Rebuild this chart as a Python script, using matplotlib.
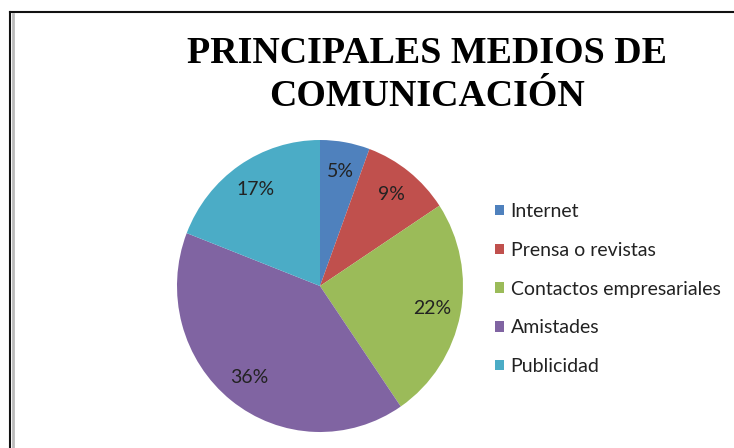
import matplotlib
matplotlib.use("Agg")
import matplotlib.pyplot as plt
from matplotlib.lines import Line2D

categories = ["Internet", "Prensa o revistas", "Contactos empresariales", "Amistades", "Publicidad"]
values = [5, 9, 22, 36, 17]
colors = ["#4F81BD", "#C0504D", "#9BBB59", "#8064A2", "#4BACC6"]
title_lines = ["PRINCIPALES MEDIOS DE", "COMUNICACIÓN"]

W, H = 734, 448
fig = plt.figure(figsize=(W / 100, H / 100), dpi=100)
fig.patch.set_facecolor("white")

# pie axes: center (320, 286) px, radii 143 x 146 px
cx, cy, rx, ry = 320, 286, 143, 146
ax = fig.add_axes([(cx - rx) / W, (H - cy - ry) / H, 2 * rx / W, 2 * ry / H])
total = sum(values)


def fmt(pct):
    return "{:d}%".format(int(round(pct * total / 100.0)))


wedges, texts, autotexts = ax.pie(
    values, colors=colors, startangle=90, counterclock=False,
    autopct=fmt, pctdistance=0.8, radius=1,
    wedgeprops=dict(linewidth=0),
    textprops=dict(fontsize=14, color="#222222", family="Lato"),
)
ax.set_xlim(-1, 1)
ax.set_ylim(-1, 1)
ax.set_aspect("auto")
ax.axis("off")

# title
fig.text(427 / W, 1 - 63 / H, title_lines[0], ha="center", va="baseline",
         fontsize=27.3, fontweight="bold", family="Liberation Serif")
fig.text(427 / W, 1 - 106 / H, title_lines[1], ha="center", va="baseline",
         fontsize=27.3, fontweight="bold", family="Liberation Serif")

# legend
leg = fig.legend(wedges, categories, loc="center left",
                 bbox_to_anchor=(495 / W, 1 - 289 / H),
                 frameon=False, borderpad=0, borderaxespad=0,
                 handlelength=0.45, handleheight=0.45, handletextpad=0.35,
                 labelspacing=1.12,
                 prop=dict(family="Lato", size=14))
for t in leg.get_texts():
    t.set_color("#222222")

# chart border (top and left)
fig.add_artist(Line2D([10 / W, 1], [1 - 12 / H, 1 - 12 / H], transform=fig.transFigure,
                      color="#111111", linewidth=1.5))
fig.add_artist(Line2D([10 / W, 10 / W], [1 - 12 / H, 0], transform=fig.transFigure,
                      color="#111111", linewidth=1.5))
fig.add_artist(Line2D([12.5 / W, 12.5 / W], [1 - 14 / H, 0], transform=fig.transFigure,
                      color="#bbbbbb", linewidth=2.0))

fig.savefig("out.png", dpi=100, facecolor="white")
